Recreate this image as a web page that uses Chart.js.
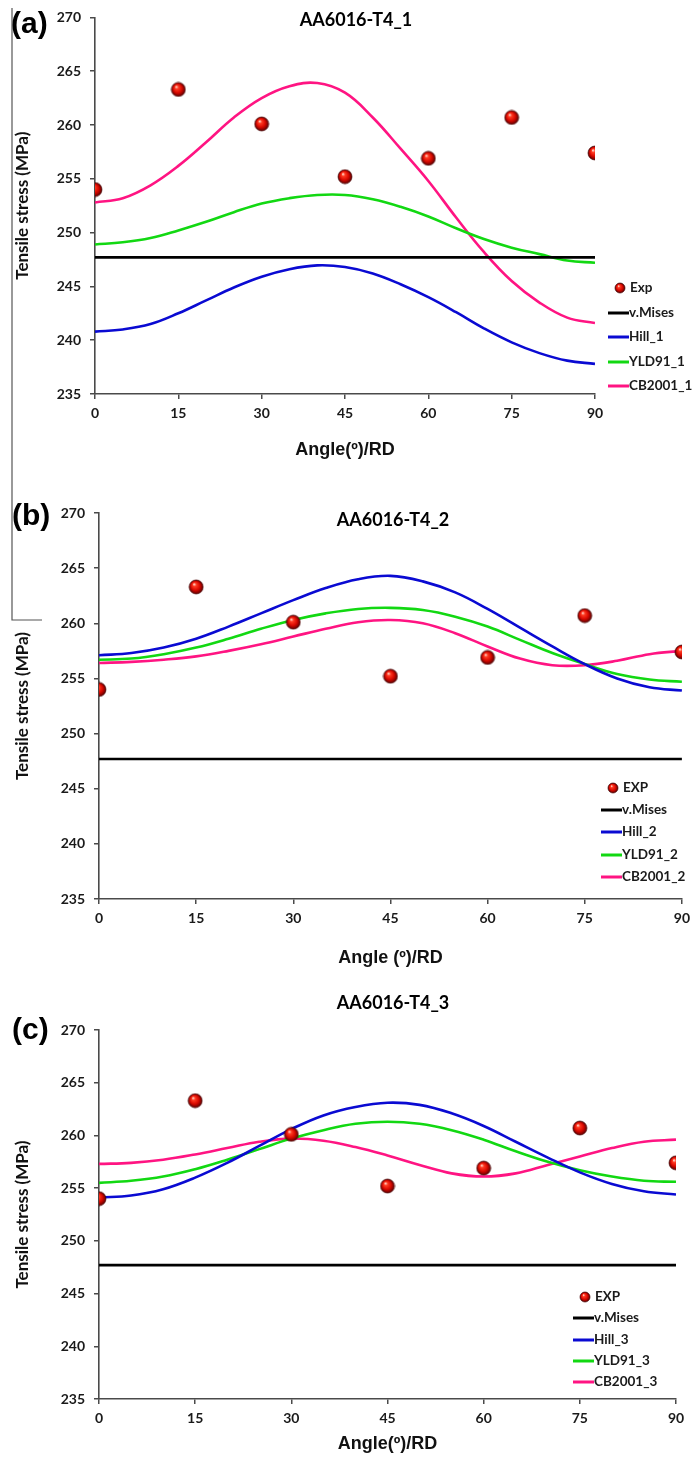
<!DOCTYPE html>
<html>
<head>
<meta charset="utf-8">
<script src="https://cdn.jsdelivr.net/npm/chart.js@4.4.1/dist/chart.umd.min.js"></script>
<style>
  html, body { margin: 0; padding: 0; background: #fff; }
  #page { position: relative; width: 696px; height: 1467px; overflow: hidden; background: #fff; }
  #page canvas { position: absolute; left: 0; }
</style>
</head>
<body>
<div id="page">
  <canvas id="panelA"></canvas>
  <canvas id="panelB"></canvas>
  <canvas id="panelC"></canvas>
</div>
<script>
// ---- data ----
const angles = [0, 5, 10, 15, 20, 25, 30, 35, 40, 45, 50, 55, 60, 65, 70, 75, 80, 85, 90];
const expAngles = [0, 15, 30, 45, 60, 75, 90];
const expStress = [254.0, 263.3, 260.1, 255.2, 256.9, 260.7, 257.4];
const misesStress = 247.7;
const xTicks = [0, 15, 30, 45, 60, 75, 90];
const yTicks = [235, 240, 245, 250, 255, 260, 265, 270];

// set 1
const hill1 = [240.8, 241.0, 241.5, 242.5, 243.7, 244.9, 245.9, 246.6, 246.95, 246.8, 246.2, 245.2, 244.0, 242.6, 241.1, 239.8, 238.8, 238.1, 237.8];
const yld1  = [248.9, 249.1, 249.5, 250.2, 251.0, 251.9, 252.7, 253.2, 253.5, 253.5, 253.1, 252.4, 251.5, 250.4, 249.4, 248.6, 248.0, 247.4, 247.2];
const cb1   = [252.8, 253.2, 254.4, 256.2, 258.4, 260.7, 262.5, 263.6, 263.9, 263.0, 260.7, 257.8, 254.8, 251.4, 248.2, 245.5, 243.5, 242.1, 241.6];
// set 2
const hill2 = [257.1, 257.3, 257.8, 258.6, 259.7, 260.9, 262.1, 263.2, 264.0, 264.3, 263.8, 262.8, 261.3, 259.6, 257.9, 256.3, 255.0, 254.2, 253.9];
const yld2  = [256.7, 256.8, 257.2, 257.8, 258.6, 259.5, 260.3, 260.9, 261.3, 261.4, 261.2, 260.6, 259.7, 258.5, 257.3, 256.3, 255.4, 254.9, 254.7];
const cb2   = [256.4, 256.5, 256.7, 257.0, 257.5, 258.1, 258.8, 259.5, 260.1, 260.3, 260.0, 259.1, 257.9, 256.8, 256.2, 256.2, 256.6, 257.2, 257.5];
// set 3
const hill3 = [254.1, 254.3, 254.9, 256.0, 257.4, 259.0, 260.6, 261.9, 262.7, 263.1, 262.9, 262.1, 260.9, 259.4, 257.9, 256.5, 255.4, 254.7, 254.4];
const yld3  = [255.5, 255.7, 256.1, 256.8, 257.7, 258.7, 259.7, 260.5, 261.1, 261.3, 261.1, 260.5, 259.6, 258.5, 257.5, 256.7, 256.1, 255.7, 255.6];
const cb3   = [257.3, 257.4, 257.7, 258.2, 258.8, 259.4, 259.7, 259.5, 258.9, 258.1, 257.2, 256.4, 256.1, 256.4, 257.2, 258.0, 258.8, 259.4, 259.6];

const panelTags   = ['(a)', '(b)', '(c)'];
const panelTitles = ['AA6016-T4_1', 'AA6016-T4_2', 'AA6016-T4_3'];
const xTitles     = ['Angle(º)/RD', 'Angle (º)/RD', 'Angle(º)/RD'];
const yTitle      = 'Tensile stress (MPa)';
const expNames    = ['Exp', 'EXP', 'EXP'];
const misesName   = 'v.Mises';
const hillNames   = ['Hill_1', 'Hill_2', 'Hill_3'];
const yldNames    = ['YLD91_1', 'YLD91_2', 'YLD91_3'];
const cbNames     = ['CB2001_1', 'CB2001_2', 'CB2001_3'];
const hillSets = [hill1, hill2, hill3];
const yldSets  = [yld1, yld2, yld3];
const cbSets   = [cb1, cb2, cb3];

// ---- styling ----
const COLORS = { mises: '#000000', hill: '#0a0ad2', yld: '#12d812', cb: '#ff1482' };
const FONT = 'Lato, "Open Sans", "DejaVu Sans", sans-serif';
const XTITLE_FONT = '"Liberation Sans", Arial, sans-serif';
const TAG_FONT = '"Liberation Sans", Arial, sans-serif';
const AXIS_COLOR = '#4a4a4a';
const TEXT_COLOR = '#1a1a1a';

// panel geometry on the page (pixels)
const layouts = [
  { canvas: 'panelA', top: 0,   height: 490, left: 95, right: 595, areaTop: 15, areaBottom: 394, xTitleY: 450,
    tag: [11, 25], title: [356, 20], legend: { x: 608, ys: [288, 313, 337, 362, 386] },
    border: true },
  { canvas: 'panelB', top: 490, height: 500, left: 99, right: 685, areaTop: 23, areaBottom: 409, xTitleY: 468,
    tag: [12, 27], title: [393, 30], legend: { x: 601, ys: [298, 320, 342, 365, 387] },
    borderEnd: 130 },
  { canvas: 'panelC', top: 990, height: 477, left: 99, right: 676, areaTop: 40, areaBottom: 409, xTitleY: 454,
    tag: [12, 41], title: [393, 13], legend: { x: 573, ys: [307, 328, 350, 371, 392] } }
];

// glossy red ball used for the experimental points
function ball(d) {
  const c = document.createElement('canvas');
  c.width = c.height = d + 2;
  const g = c.getContext('2d');
  const r = d / 2, cx = r + 1, cy = r + 1;
  const grad = g.createRadialGradient(cx - r * 0.3, cy - r * 0.4, r * 0.05, cx, cy, r);
  grad.addColorStop(0, '#ffd8cc');
  grad.addColorStop(0.22, '#ff3a22');
  grad.addColorStop(0.62, '#d80800');
  grad.addColorStop(1, '#5c0000');
  g.fillStyle = grad;
  g.beginPath(); g.arc(cx, cy, r, 0, Math.PI * 2); g.fill();
  g.strokeStyle = 'rgba(70,0,0,0.85)'; g.lineWidth = 0.8; g.stroke();
  return c;
}
const bigBall = ball(14);
const smallBall = ball(10);

// draws the panel tag, title, the hand-placed legend and the figure frame line
const decorPlugin = {
  id: 'panelDecor',
  afterDraw(chart, args, opts) {
    const ctx = chart.ctx;
    const L = opts.layout;
    ctx.save();
    // frame line on the left margin
    if (L.border || L.borderEnd) {
      ctx.strokeStyle = '#555';
      ctx.lineWidth = 1.2;
      ctx.beginPath();
      if (L.border) { ctx.moveTo(12, 8); ctx.lineTo(12, L.height); }
      else { ctx.moveTo(12, 0); ctx.lineTo(12, L.borderEnd); ctx.lineTo(42, L.borderEnd); }
      ctx.stroke();
    }
    // tag
    ctx.fillStyle = '#000';
    ctx.textBaseline = 'middle';
    ctx.textAlign = 'left';
    ctx.font = 'bold 30px ' + TAG_FONT;
    ctx.fillText(opts.tag, L.tag[0], L.tag[1]);
    // title
    ctx.textAlign = 'center';
    ctx.font = 'bold 18px ' + FONT;
    ctx.fillText(opts.title, L.title[0], L.title[1]);
    // legend
    ctx.textAlign = 'left';
    ctx.font = 'bold 13.5px ' + FONT;
    chart.data.datasets.forEach((ds, i) => {
      const y = L.legend.ys[i];
      const x = L.legend.x;
      if (ds.showLine === false) {
        ctx.drawImage(smallBall, x + 6, y - 6);
        ctx.fillStyle = TEXT_COLOR;
        ctx.fillText(ds.label, x + 22, y);
      } else {
        ctx.strokeStyle = ds.borderColor;
        ctx.lineWidth = 3;
        ctx.beginPath(); ctx.moveTo(x, y); ctx.lineTo(x + 21, y); ctx.stroke();
        ctx.fillStyle = TEXT_COLOR;
        ctx.fillText(ds.label, x + 21, y);
      }
    });
    ctx.restore();
  }
};

function makePanel(p) {
  const L = layouts[p];
  const cv = document.getElementById(L.canvas);
  cv.width = 696; cv.height = L.height;
  cv.style.top = L.top + 'px';
  cv.style.width = '696px'; cv.style.height = L.height + 'px';

  const xTitleFont = 18;
  const xAxisH = L.xTitleY - L.areaBottom + xTitleFont * 1.2 / 2;
  const line = (name, vals, color) => ({
    type: 'line', label: name,
    data: angles.map((a, i) => ({ x: a, y: vals[i] })),
    borderColor: color, backgroundColor: color, borderWidth: 2.6,
    pointRadius: 0, tension: 0.4, fill: false
  });

  return new Chart(cv.getContext('2d'), {
    type: 'scatter',
    data: {
      datasets: [
        { label: expNames[p], data: expAngles.map((a, i) => ({ x: a, y: expStress[i] })),
          showLine: false, pointStyle: bigBall, pointRadius: 7, borderColor: '#c00000', backgroundColor: '#e00000' },
        { type: 'line', label: misesName, data: [{ x: 0, y: misesStress }, { x: 90, y: misesStress }],
          borderColor: COLORS.mises, backgroundColor: COLORS.mises, borderWidth: 2.6, pointRadius: 0 },
        line(hillNames[p], hillSets[p], COLORS.hill),
        line(yldNames[p], yldSets[p], COLORS.yld),
        line(cbNames[p], cbSets[p], COLORS.cb)
      ]
    },
    options: {
      responsive: false,
      animation: false,
      devicePixelRatio: 1,
      layout: { padding: { left: 0, top: L.areaTop, right: 696 - L.right, bottom: L.height - L.areaBottom - xAxisH } },
      plugins: {
        legend: { display: false },
        tooltip: { enabled: false },
        title: { display: false },
        panelDecor: { layout: L, tag: panelTags[p], title: panelTitles[p] }
      },
      scales: {
        x: {
          type: 'linear', min: 0, max: 90,
          afterBuildTicks: s => { s.ticks = xTicks.map(v => ({ value: v })); },
          afterFit: s => { s.height = xAxisH; },
          grid: { drawOnChartArea: false, drawTicks: true, tickLength: 5, color: AXIS_COLOR, lineWidth: 1.5 },
          border: { display: true, color: AXIS_COLOR, width: 1.6 },
          ticks: { color: TEXT_COLOR, padding: 6, maxRotation: 0, font: { family: FONT, size: 14, weight: 'bold' } },
          title: { display: true, text: xTitles[p], color: '#111', padding: 0,
                   font: { family: XTITLE_FONT, size: xTitleFont, weight: 'bold' } }
        },
        y: {
          type: 'linear', min: 235, max: 270,
          afterBuildTicks: s => { s.ticks = yTicks.map(v => ({ value: v })); },
          afterFit: s => { s.width = L.left; },
          grid: { drawOnChartArea: false, drawTicks: true, tickLength: 5, color: AXIS_COLOR, lineWidth: 1.5 },
          border: { display: true, color: AXIS_COLOR, width: 1.6 },
          ticks: { color: TEXT_COLOR, padding: 9, font: { family: FONT, size: 14, weight: 'bold' } },
          title: { display: true, text: yTitle, color: '#111', padding: { top: 12, bottom: 0 },
                   font: { family: FONT, size: 17, weight: 'bold' } }
        }
      }
    },
    plugins: [decorPlugin]
  });
}

[0, 1, 2].forEach(makePanel);
</script>
</body>
</html>
